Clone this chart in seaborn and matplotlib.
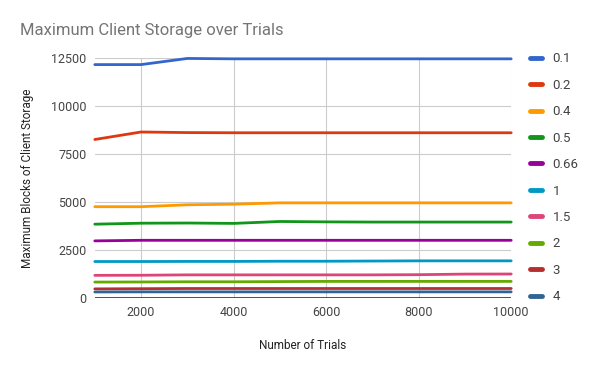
import seaborn as sns
import pandas as pd
import matplotlib.pyplot as plt

# trials on the x axis
trials = [1000, 2000, 3000, 4000, 5000, 6000, 7000, 8000, 9000, 10000]

# one series per parameter value
s_01 = [12150, 12150, 12470, 12450, 12450, 12450, 12450, 12450, 12450, 12450]
s_02 = [8250, 8640, 8610, 8600, 8600, 8600, 8600, 8600, 8600, 8600]
s_04 = [4750, 4750, 4850, 4880, 4950, 4950, 4950, 4950, 4950, 4950]
s_05 = [3840, 3890, 3900, 3880, 3980, 3960, 3950, 3950, 3950, 3950]
s_066 = [2970, 3000, 3000, 3000, 3000, 3000, 3000, 3000, 3000, 3000]
s_1 = [1895, 1895, 1900, 1900, 1910, 1910, 1920, 1930, 1930, 1930]
s_15 = [1175, 1180, 1200, 1200, 1200, 1200, 1200, 1210, 1240, 1245]
s_2 = [825, 830, 840, 840, 850, 860, 860, 860, 860, 860]
s_3 = [470, 480, 490, 490, 490, 490, 490, 490, 490, 490]
s_4 = [310, 315, 315, 315, 315, 315, 315, 315, 315, 315]

labels = ["0.1", "0.2", "0.4", "0.5", "0.66", "1", "1.5", "2", "3", "4"]
series = [s_01, s_02, s_04, s_05, s_066, s_1, s_15, s_2, s_3, s_4]
colors = ["#3366cc", "#dc3912", "#ff9900", "#109618", "#990099",
          "#0099c6", "#dd4477", "#66aa00", "#b82e2e", "#316395"]

y_ticks = [0, 2500, 5000, 7500, 10000, 12500]
x_ticks = [2000, 4000, 6000, 8000, 10000]


def main():
    rows = []
    for lab, vals in zip(labels, series):
        for t, v in zip(trials, vals):
            rows.append({"trials": t, "storage": v, "series": lab})
    df = pd.DataFrame(rows)

    sns.set_style("white")
    plt.rcParams["font.family"] = ["Roboto", "DejaVu Sans"]

    fig = plt.figure(figsize=(6, 3.71), dpi=100)
    ax = fig.add_axes([0.158, 0.197, 0.694, 0.647])

    sns.lineplot(data=df, x="trials", y="storage", hue="series",
                 hue_order=labels, palette=colors, linewidth=2,
                 ax=ax, legend=False, clip_on=False)

    ax.set_xlim(1000, 10000)
    ax.set_ylim(0, 12500)
    ax.set_xticks(x_ticks)
    ax.set_yticks(y_ticks)
    ax.tick_params(length=0, labelsize=9, colors="#444444", pad=6)
    ax.grid(True, color="#cccccc", linewidth=0.8)
    ax.set_axisbelow(True)
    for sp in ax.spines.values():
        sp.set_visible(False)
    ax.axhline(0, color="#333333", linewidth=1.2, zorder=1)

    ax.set_xlabel("Number of Trials", fontsize=8.5, color="#222222",
                  labelpad=14)
    ax.set_ylabel("Maximum Blocks of Client Storage", fontsize=8.5,
                  color="#222222", labelpad=12)
    fig.text(20 / 600, 1 - 30 / 371, "Maximum Client Storage over Trials",
             fontsize=12, color="#757575", va="center", ha="left")

    handles = [plt.Line2D([0], [0], color=c, linewidth=3.5,
                          solid_capstyle="round") for c in colors]
    fig.legend(handles, labels, loc="upper left",
               bbox_to_anchor=(525 / 600, 1 - 47 / 371), frameon=False,
               fontsize=9.5, labelcolor="#444444", handlelength=0.9,
               handletextpad=0.8, labelspacing=1.02, borderaxespad=0)

    fig.savefig("out.png", dpi=100)


if __name__ == "__main__":
    main()
